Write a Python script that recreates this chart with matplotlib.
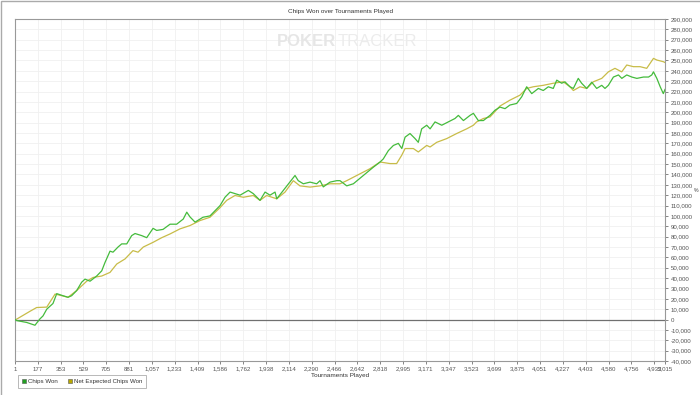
import matplotlib.pyplot as plt
from matplotlib.patches import Rectangle
from matplotlib.lines import Line2D
from matplotlib.ticker import FuncFormatter

plt.rcParams['font.family'] = ['Liberation Sans', 'DejaVu Sans']

# Chips Won (green), tournament number -> chips (thousands)
won_n = [1, 14, 91, 155, 194, 217, 246, 294, 323, 371, 410, 438, 477, 515, 541, 580,
         631, 670, 695, 734, 757, 796, 824, 863, 901, 927, 978, 1017, 1066, 1094, 1143,
         1197, 1248, 1299, 1326, 1351, 1390, 1428, 1451, 1505, 1544, 1583, 1621, 1660,
         1698, 1737, 1801, 1839, 1891, 1930, 1968, 2007, 2020, 2071, 2122, 2161, 2186,
         2225, 2277, 2328, 2354, 2379, 2431, 2483, 2508, 2560, 2611, 2688, 2765, 2817,
         2842, 2881, 2920, 2958, 2985, 3010, 3048, 3087, 3112, 3138, 3177, 3203, 3241,
         3293, 3344, 3395, 3421, 3460, 3511, 3537, 3575, 3614, 3665, 3704, 3742, 3781,
         3819, 3871, 3910, 3948, 3987, 4038, 4076, 4115, 4153, 4180, 4218, 4243, 4282,
         4308, 4346, 4372, 4411, 4450, 4488, 4527, 4552, 4578, 4617, 4656, 4682, 4720,
         4759, 4798, 4849, 4888, 4913, 4926, 4952, 4978, 5002, 5015]
won_k = [0, -1, -2.8, -5.5, 0.7, 3.5, 10, 15.5, 25, 23, 21.5, 23, 28, 36, 39, 37,
         42, 47, 55, 66, 65, 70, 73, 73, 81, 83, 81, 79, 88, 86, 87,
         92, 92, 97, 103.6, 99, 94, 97, 98.7, 100, 105, 110, 118, 123,
         121.5, 120, 124.6, 121.5, 115, 123, 120, 123, 116.5, 124.6, 132.6, 139, 134,
         131, 132.6, 131, 134, 128, 132.6, 134, 134, 129, 131, 139, 147, 152,
         155, 163, 168, 170, 165, 176, 179.5, 174.6, 171, 184, 187.5, 184, 190.7,
         187.5, 190.7, 194, 197, 192, 197, 199, 192, 192, 197, 202, 205, 203.5,
         207, 208.5, 215, 224.6, 218, 223, 221, 224.6, 223, 231, 228, 229.4, 224.6,
         223, 232.7, 228, 223, 229, 223, 226, 223, 226, 234, 236, 232.7, 236,
         234, 232.7, 234, 234, 236, 239, 232.7, 224.6, 218, 222]

# Net Expected Chips Won (olive)
exp_n = [1, 14, 117, 168, 246, 310, 410, 477, 554, 603, 670, 734, 786, 850, 911, 950,
         991, 1066, 1133, 1197, 1258, 1274, 1351, 1428, 1505, 1583, 1634, 1698, 1762,
         1839, 1891, 1942, 2020, 2084, 2148, 2199, 2277, 2354, 2431, 2508, 2560, 2637,
         2740, 2817, 2894, 2945, 2984, 3010, 3074, 3112, 3177, 3203, 3254, 3331, 3408,
         3485, 3537, 3562, 3614, 3665, 3691, 3742, 3819, 3896, 3948, 3999, 4076, 4153,
         4230, 4282, 4308, 4359, 4411, 4462, 4527, 4578, 4629, 4681, 4720, 4771, 4823,
         4874, 4926, 4952, 5002, 5015]
exp_k = [0, 0.4, 8, 11.6, 12, 24.6, 21.5, 28, 37, 40.6, 42, 45.5, 53.6, 58.5, 66.5, 65,
         70, 74.5, 79, 82.6, 86.5, 87.5, 90.7, 95.5, 98.7, 108, 115, 119.7, 118,
         119.7, 115, 119.7, 116.5, 123, 134, 129, 127.8, 129, 131, 131, 134, 139,
         145.6, 152, 150.5, 150.5, 158.5, 165, 165, 161.7, 168, 166.5, 171, 174.6, 179.5,
         184, 187.5, 190.7, 194, 195.5, 199, 206, 211.7, 216.5, 223, 224.6, 226, 228,
         229.4, 224.6, 221, 224.6, 223, 229.4, 232.7, 239, 242.4, 239, 245.6, 244, 244,
         242.4, 252, 250.4, 248.8, 248]

x_ticks = [1, 177, 353, 529, 705, 881, 1057, 1233, 1409, 1586, 1762, 1938, 2114, 2290,
           2466, 2642, 2818, 2995, 3171, 3347, 3523, 3699, 3875, 4051, 4227, 4403, 4580,
           4756, 4932, 5015]
y_ticks = list(range(-40000, 290001, 10000))

fig = plt.figure(figsize=(7, 3.95), dpi=100)
ax = fig.add_axes([15 / 700, 1 - 361 / 395, 650 / 700, 342 / 395])

ax.plot(won_n, [v * 1000 for v in won_k], color='#44bb3c', lw=0.9, label='Chips Won', zorder=3)
ax.plot(exp_n, [v * 1000 for v in exp_k], color='#c8bc48', lw=0.9, label='Net Expected Chips Won', zorder=2)
ax.axhline(0, color='#707070', lw=0.9, zorder=1)

ax.set_xlim(1, 5015)
ax.set_ylim(-40000, 290000)
ax.set_xticks(x_ticks)
ax.set_yticks(y_ticks)
ax.yaxis.tick_right()
ax.yaxis.set_major_formatter(FuncFormatter(lambda v, p: f'{int(v):,}'))
ax.xaxis.set_major_formatter(FuncFormatter(lambda v, p: f'{int(v):,}'))
ax.tick_params(labelsize=4.4, colors='#555555', length=2, width=0.5, pad=2)
ax.grid(True, color='#f0f0f0', lw=0.6)
ax.set_axisbelow(True)
for s in ax.spines.values():
    s.set_color('#999999')
    s.set_linewidth(0.8)

ax.set_xlabel('Tournaments Played', fontsize=4.6, color='#333333', labelpad=1)
fig.text(340 / 700, 1 - 12 / 395, 'Chips Won over Tournaments Played', fontsize=4.6,
         color='#333333', ha='center', va='center')
fig.text(696 / 700, 1 - 190 / 395, '%', fontsize=3.8, color='#444444', ha='center', va='center')

# watermark
fig.text(277 / 700, 1 - 42 / 395, 'POKER', fontsize=12, fontweight='bold', color='#e6e6e6',
         ha='left', va='center')
fig.text(338 / 700, 1 - 42 / 395, 'TRACKER', fontsize=12, color='#ececec',
         ha='left', va='center')

# outer frame
fig.patches.append(Rectangle((1 / 700, -0.01), 1.1, 1 - 1 / 395 + 0.01, transform=fig.transFigure,
                             fill=False, edgecolor='#aaaaaa', lw=1))

handles = [Line2D([], [], ls='none', marker='s', markersize=3.2, markerfacecolor='#22a022',
                  markeredgecolor='#555555', markeredgewidth=0.4),
           Line2D([], [], ls='none', marker='s', markersize=3.2, markerfacecolor='#b8a800',
                  markeredgecolor='#555555', markeredgewidth=0.4)]
leg = fig.legend(handles, ['Chips Won', 'Net Expected Chips Won'], loc='lower left',
                 bbox_to_anchor=(15 / 700, 1 - 391 / 395), ncol=2, fontsize=4.4,
                 frameon=True, fancybox=False, handlelength=0.8, handletextpad=0.3,
                 columnspacing=1.5, borderpad=0.6)
leg.get_frame().set_edgecolor('#999999')
leg.get_frame().set_linewidth(0.6)
for t in leg.get_texts():
    t.set_color('#333333')

fig.savefig('out.png', dpi=100)
